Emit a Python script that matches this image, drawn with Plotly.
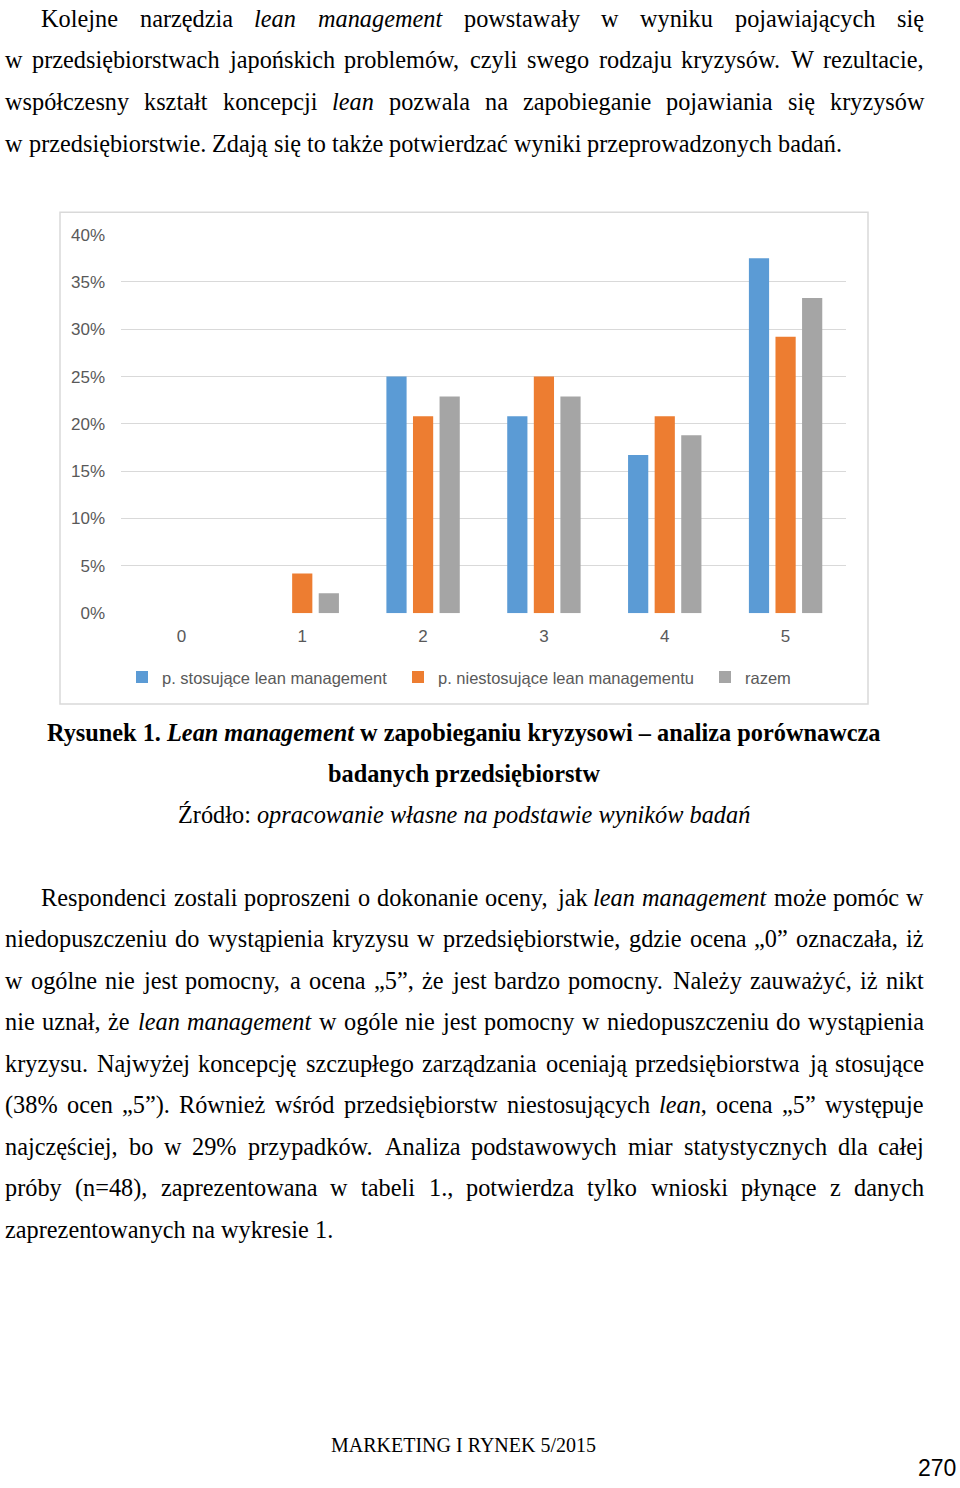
import unicodedata
import plotly.graph_objects as go

W, H = 960, 1488

# chart data (share of answers per rating)
categories = ['0', '1', '2', '3', '4', '5']
stosujace = [0.0, 0.0, 0.25, 0.208, 0.167, 0.375]
niestosujace = [0.0, 0.042, 0.208, 0.25, 0.208, 0.292]
razem = [0.0, 0.021, 0.229, 0.229, 0.188, 0.333]
series_names = ['p. stosujące lean management', 'p. niestosujące lean managementu', 'razem']
series_colors = ['#5B9BD5', '#ED7D31', '#A5A5A5']
series_legends = ['legend', 'legend2', 'legend3']
y_ticks = [0, 0.05, 0.10, 0.15, 0.20, 0.25, 0.30, 0.35, 0.40]

# page text, underscores mark italics: (left, text, justified)
para1 = [
    (40, 'Kolejne narzędzia _lean management_ powstawały w wyniku pojawiających się', True),
    (4, 'w przedsiębiorstwach japońskich problemów, czyli swego rodzaju kryzysów. W rezultacie,', True),
    (4, 'współczesny kształt koncepcji _lean_ pozwala na zapobieganie pojawiania się kryzysów', True),
    (4, 'w przedsiębiorstwie. Zdają się to także potwierdzać wyniki przeprowadzonych badań.', False),
]
para2 = [
    (40, 'Respondenci zostali poproszeni o dokonanie oceny, jak _lean management_ może pomóc w', True),
    (4, 'niedopuszczeniu do wystąpienia kryzysu w przedsiębiorstwie, gdzie ocena „0” oznaczała, iż', True),
    (4, 'w ogólne nie jest pomocny, a ocena „5”, że jest bardzo pomocny. Należy zauważyć, iż nikt', True),
    (4, 'nie uznał, że _lean management_ w ogóle nie jest pomocny w niedopuszczeniu do wystąpienia', True),
    (4, 'kryzysu. Najwyżej koncepcję szczupłego zarządzania oceniają przedsiębiorstwa ją stosujące', True),
    (4, '(38% ocen „5”). Również wśród przedsiębiorstw niestosujących _lean_, ocena „5” występuje', True),
    (4, 'najczęściej, bo w 29% przypadków. Analiza podstawowych miar statystycznych dla całej', True),
    (4, 'próby (n=48), zaprezentowana w tabeli 1., potwierdza tylko wnioski płynące z danych', True),
    (4, 'zaprezentowanych na wykresie 1.', False),
]
captions = [
    '<b>Rysunek 1. <i>Lean management</i> w zapobieganiu kryzysowi – analiza porównawcza</b>',
    '<b>badanych przedsiębiorstw</b>',
    'Źródło: <i>opracowanie własne na podstawie wyników badań</i>',
]
RIGHT = 923
BODY_FS = 24.3
LINE = 42.1
SERIF = 'Liberation Serif, Times New Roman, serif'
NARROW = 'Liberation Sans Narrow, Arial Narrow, Liberation Sans, sans-serif'

# Times advance widths (1/1000 em) used to justify lines
REG = dict(zip('abcdefghijklmnopqrstuvwxyz',
               [444, 500, 444, 500, 444, 333, 500, 500, 278, 278, 500, 278, 778,
                500, 500, 500, 500, 333, 389, 278, 500, 500, 722, 500, 500, 444]))
REG.update(zip('ABCDEFGHIJKLMNOPQRSTUVWXYZ',
               [722, 667, 667, 722, 611, 556, 722, 722, 333, 389, 722, 611, 889,
                722, 722, 556, 722, 667, 556, 611, 722, 722, 944, 722, 722, 611]))
REG.update({c: 500 for c in '0123456789'})
REG.update({' ': 250, ',': 250, '.': 250, '(': 333, ')': 333, '%': 833, '=': 564,
            '„': 444, '”': 444, '–': 500, ':': 278, '/': 278})
ITA = dict(zip('abcdefghijklmnopqrstuvwxyz',
               [500, 500, 444, 500, 444, 278, 500, 500, 278, 278, 444, 278, 722,
                500, 500, 500, 500, 389, 389, 278, 500, 444, 667, 444, 444, 389]))


def char_w(ch, ital):
    base = unicodedata.normalize('NFD', ch)[0]
    base = {'ł': 'l', 'Ł': 'L'}.get(base, base)
    if ital and base in ITA:
        return ITA[base]
    return REG.get(base, 500)


def tokens(line):
    out, cur, ital = [], [], False
    for ch in line:
        if ch == '_':
            ital = not ital
        elif ch == ' ':
            if cur:
                out.append(cur)
                cur = []
        else:
            cur.append((ch, ital))
    if cur:
        out.append(cur)
    return out


def markup(tok):
    s, prev = '', False
    for ch, it in tok:
        if it != prev:
            s += '<i>' if it else '</i>'
            prev = it
        s += ch
    if prev:
        s += '</i>'
    return s


def px(x):
    return x / W


def py(y):
    return 1 - y / H


fig = go.Figure()

for name, vals, col, leg in zip(series_names, [stosujace, niestosujace, razem],
                                series_colors, series_legends):
    fig.add_trace(go.Bar(
        x=categories, y=vals, name=name, marker=dict(color=col, line=dict(width=0)),
        legend=leg, hovertemplate='%{x}: %{y:.1%}<extra>' + name + '</extra>'
    ))

annotations = []


def add_paragraph(lines, y0):
    # word by word so the lines can be justified
    for k, (left, text, justified) in enumerate(lines):
        y = y0 + k * LINE
        toks = tokens(text)
        widths = [sum(char_w(c, i) for c, i in t) * BODY_FS / 1000 for t in toks]
        if justified and len(toks) > 1:
            gap = (RIGHT - left - sum(widths)) / (len(toks) - 1)
        else:
            gap = 250 * BODY_FS / 1000
        x = left
        for t, w in zip(toks, widths):
            annotations.append(dict(
                x=px(x), y=py(y), xref='paper', yref='paper', xanchor='left', yanchor='middle',
                text=markup(t), showarrow=False, borderpad=0,
                font=dict(family=SERIF, size=BODY_FS, color='#000000')))
            x += w + gap


add_paragraph(para1, 9.5)
add_paragraph(para2, 899.5)

# caption and source
for k, text in enumerate(captions):
    annotations.append(dict(
        x=px(463.5), y=py(733 + k * 41.5), xref='paper', yref='paper',
        xanchor='center', yanchor='middle', text=text, showarrow=False, borderpad=0,
        font=dict(family=SERIF, size=BODY_FS, color='#000000')))

# footer
annotations.append(dict(
    x=px(463.5), y=py(1455), xref='paper', yref='paper', xanchor='center', yanchor='middle',
    text='MARKETING I RYNEK 5/2015', showarrow=False, borderpad=0,
    font=dict(family=SERIF, size=20, color='#000000')))
annotations.append(dict(
    x=px(957), y=py(1478), xref='paper', yref='paper', xanchor='right', yanchor='middle',
    text='270', showarrow=False, borderpad=0,
    font=dict(family='Liberation Sans, Arial, sans-serif', size=23, color='#000000')))

legend_common = dict(orientation='h', yanchor='middle', xanchor='left', y=py(677),
                     bgcolor='rgba(0,0,0,0)', borderwidth=0,
                     font=dict(family=NARROW, size=16.5, color='#595959'))

fig.update_layout(
    width=W, height=H,
    margin=dict(l=0, r=0, t=0, b=0),
    paper_bgcolor='white', plot_bgcolor='white',
    barmode='group', bargap=0.34, bargroupgap=0.24,
    showlegend=True,
    xaxis=dict(domain=[px(121), px(846)], type='category', showgrid=False, showline=False,
               zeroline=False, ticks='', ticklabelstandoff=11,
               tickfont=dict(family=NARROW, size=17, color='#595959')),
    yaxis=dict(domain=[py(612), py(228)], range=[0, 0.4005], tickvals=y_ticks, tickformat='.0%',
               showgrid=True, gridcolor='#D9D9D9', gridwidth=1, zeroline=False, showline=False,
               ticks='', ticklabelstandoff=15,
               tickfont=dict(family=NARROW, size=17, color='#595959')),
    legend=dict(x=px(122), **legend_common),
    legend2=dict(x=px(398), **legend_common),
    legend3=dict(x=px(705), **legend_common),
    annotations=annotations,
    shapes=[dict(type='rect', xref='paper', yref='paper', x0=px(60), x1=px(868),
                 y0=py(704), y1=py(206), line=dict(color='#D9D9D9', width=1.5),
                 fillcolor='rgba(0,0,0,0)', layer='below')],
)

fig.write_html('out.html', config={'displayModeBar': False},
               post_script="document.body.style.margin='0';document.body.style.overflow='hidden';")
